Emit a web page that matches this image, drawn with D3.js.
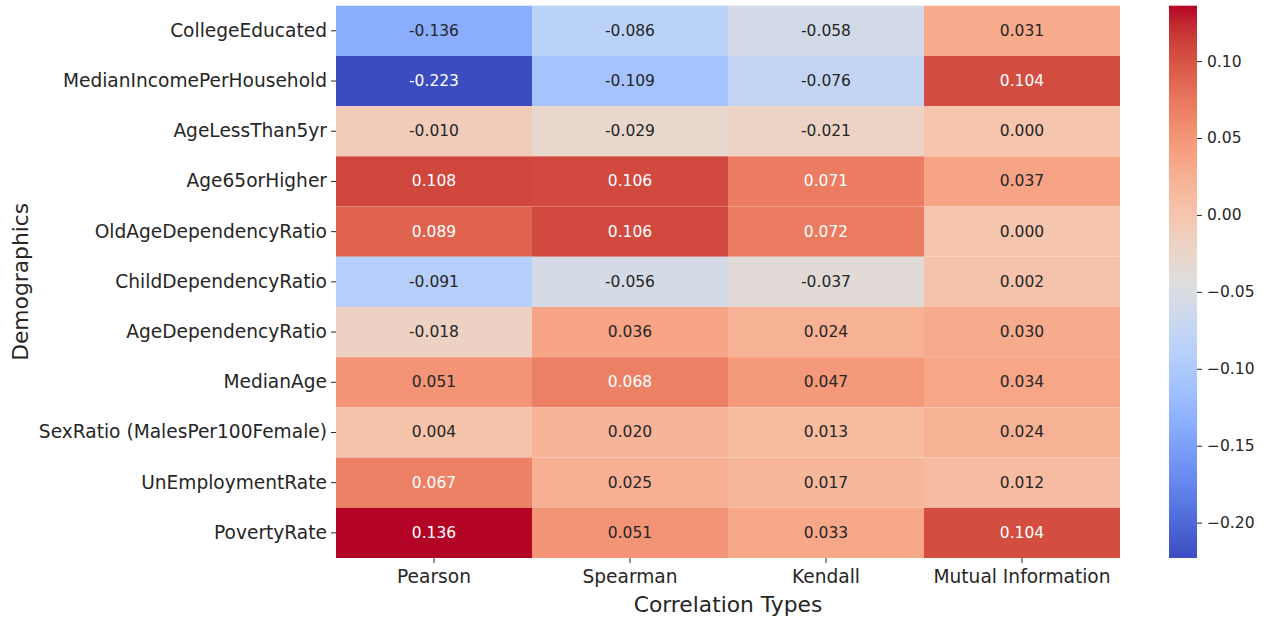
<!DOCTYPE html>
<html>
<head>
<meta charset="utf-8">
<script src="https://cdn.jsdelivr.net/npm/d3@7"></script>
<style>
  body { margin: 0; background: #fff; }
  svg { display: block; font-family: "DejaVu Sans", sans-serif; }
</style>
</head>
<body>
<script>
// data
var demographics = ["CollegeEducated", "MedianIncomePerHousehold", "AgeLessThan5yr", "Age65orHigher",
  "OldAgeDependencyRatio", "ChildDependencyRatio", "AgeDependencyRatio", "MedianAge",
  "SexRatio (MalesPer100Female)", "UnEmploymentRate", "PovertyRate"];
var corrTypes = ["Pearson", "Spearman", "Kendall", "Mutual Information"];
var pearson  = [-0.136, -0.223, -0.010, 0.108, 0.089, -0.091, -0.018, 0.051, 0.004, 0.067, 0.136];
var spearman = [-0.086, -0.109, -0.029, 0.106, 0.106, -0.056, 0.036, 0.068, 0.020, 0.025, 0.051];
var kendall  = [-0.058, -0.076, -0.021, 0.071, 0.072, -0.037, 0.024, 0.047, 0.013, 0.017, 0.033];
var mutualInfo = [0.031, 0.104, 0.000, 0.037, 0.000, 0.002, 0.030, 0.034, 0.024, 0.012, 0.104];
var cbarTicks = [0.10, 0.05, 0.00, -0.05, -0.10, -0.15, -0.20];

var seriesList = [pearson, spearman, kendall, mutualInfo];
var cells = [];
demographics.forEach(function(d, i) {
  corrTypes.forEach(function(c, j) {
    cells.push({row: d, col: c, value: seriesList[j][i]});
  });
});

// matplotlib coolwarm (Moreland table)
var coolwarm = [
  [59,76,192],[68,90,204],[77,104,215],[87,117,225],[98,130,234],[108,142,241],[119,154,247],
  [130,165,251],[141,176,254],[152,185,255],[163,194,255],[174,201,253],[184,208,249],[194,213,244],
  [204,217,238],[213,219,230],[221,221,221],[229,216,209],[236,211,197],[241,204,185],[245,196,173],
  [247,187,160],[247,177,148],[247,166,135],[244,154,123],[241,141,111],[236,127,99],[229,112,88],
  [222,96,77],[213,80,66],[203,62,56],[192,40,47],[180,4,38]
].map(function(c) { return d3.rgb(c[0], c[1], c[2]); });
var coolwarmInterp = d3.piecewise(d3.interpolateRgb, coolwarm);

var allVals = [].concat(pearson, spearman, kendall, mutualInfo);
var vmin = d3.min(allVals), vmax = d3.max(allVals);
var color = d3.scaleSequential(coolwarmInterp).domain([vmin, vmax]);

function textColor(c) {
  var rgb = d3.rgb(c);
  var lin = [rgb.r, rgb.g, rgb.b].map(function(v) {
    v = v / 255;
    return v <= 0.03928 ? v / 12.92 : Math.pow((v + 0.055) / 1.055, 2.4);
  });
  var lum = 0.2126 * lin[0] + 0.7152 * lin[1] + 0.0722 * lin[2];
  return lum > 0.408 ? "#262626" : "#ffffff";
}

var width = 1263, height = 621;
var mLeft = 336, mRight = 1120, mTop = 5.7, mBottom = 558;

var svg = d3.select("body").append("svg")
  .attr("width", width)
  .attr("height", height);

var x = d3.scaleBand().domain(corrTypes).range([mLeft, mRight]);
var y = d3.scaleBand().domain(demographics).range([mTop, mBottom]);

// cells
svg.append("g").selectAll("rect")
  .data(cells)
  .enter().append("rect")
  .attr("x", function(d) { return x(d.col); })
  .attr("y", function(d) { return y(d.row); })
  .attr("width", x.bandwidth())
  .attr("height", y.bandwidth())
  .attr("fill", function(d) { return color(d.value); });

// annotations
svg.append("g").selectAll("text")
  .data(cells)
  .enter().append("text")
  .attr("x", function(d) { return x(d.col) + x.bandwidth() / 2; })
  .attr("y", function(d) { return y(d.row) + y.bandwidth() / 2; })
  .attr("text-anchor", "middle")
  .attr("dominant-baseline", "central")
  .attr("font-size", 15.5)
  .attr("fill", function(d) { return textColor(color(d.value)); })
  .text(function(d) { return d3.format(".3f")(d.value).replace("−", "-"); });

// axes
var xAxis = svg.append("g")
  .attr("transform", "translate(0," + mBottom + ")")
  .call(d3.axisBottom(x).tickSize(5).tickPadding(4));
var yAxis = svg.append("g")
  .attr("transform", "translate(" + mLeft + ",0)")
  .call(d3.axisLeft(y).tickSize(5).tickPadding(4));
[xAxis, yAxis].forEach(function(a) {
  a.select(".domain").remove();
  a.selectAll("line").attr("stroke", "#262626");
  a.selectAll("text").attr("font-size", 18.6).attr("fill", "#262626")
    .attr("font-family", "DejaVu Sans, sans-serif");
});
xAxis.selectAll("text").attr("dy", "0.85em");

svg.append("text")
  .attr("x", (mLeft + mRight) / 2)
  .attr("y", 612)
  .attr("text-anchor", "middle")
  .attr("font-size", 21.8)
  .attr("fill", "#262626")
  .text("Correlation Types");

svg.append("text")
  .attr("transform", "translate(28," + (mTop + mBottom) / 2 + ") rotate(-90)")
  .attr("text-anchor", "middle")
  .attr("font-size", 21.8)
  .attr("fill", "#262626")
  .text("Demographics");

// colorbar
var cbLeft = 1169, cbWidth = 28;
var cy = d3.scaleLinear().domain([vmin, vmax]).range([mBottom, mTop]);
var defs = svg.append("defs");
var grad = defs.append("linearGradient")
  .attr("id", "cbar")
  .attr("x1", 0).attr("y1", 1).attr("x2", 0).attr("y2", 0);
grad.selectAll("stop")
  .data(d3.range(0, 1.0001, 1 / 64))
  .enter().append("stop")
  .attr("offset", function(t) { return t; })
  .attr("stop-color", function(t) { return coolwarmInterp(t); });
svg.append("rect")
  .attr("x", cbLeft)
  .attr("y", mTop)
  .attr("width", cbWidth)
  .attr("height", mBottom - mTop)
  .attr("fill", "url(#cbar)");

var cAxis = svg.append("g")
  .attr("transform", "translate(" + (cbLeft + cbWidth) + ",0)")
  .call(d3.axisRight(cy).tickValues(cbarTicks).tickSize(5).tickPadding(5)
    .tickFormat(function(d) { return d3.format(".2f")(d); }));
cAxis.select(".domain").remove();
cAxis.selectAll("line").attr("stroke", "#262626");
cAxis.selectAll("text").attr("font-size", 15.5).attr("fill", "#262626")
  .attr("font-family", "DejaVu Sans, sans-serif");
</script>
</body>
</html>
